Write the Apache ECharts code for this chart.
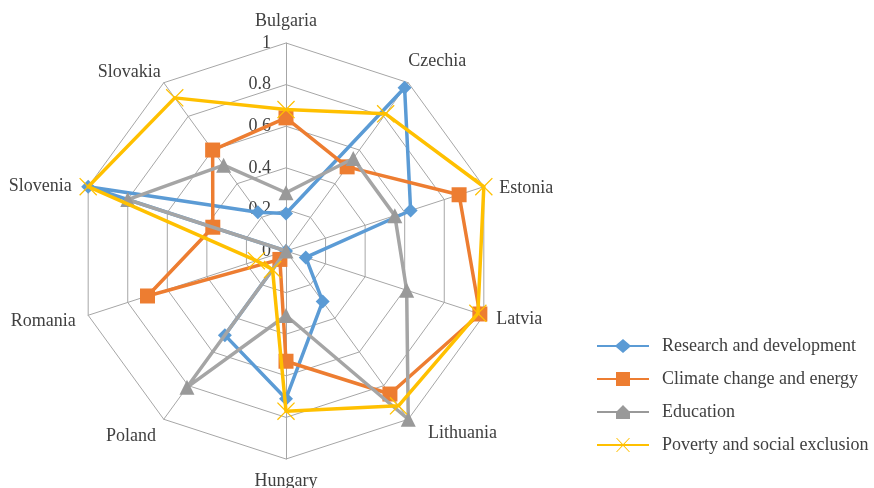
<!DOCTYPE html>
<html>
<head>
<meta charset="utf-8">
<script src="https://cdn.jsdelivr.net/npm/echarts@6/dist/echarts.min.js"></script>
<style>
  html, body { margin: 0; padding: 0; background: #fff; }
  #chart { width: 874px; height: 488px; }
</style>
</head>
<body>
<div id="chart"></div>
<script>
// countries, clockwise from top
const countries = ['Bulgaria', 'Czechia', 'Estonia', 'Latvia', 'Lithuania', 'Hungary', 'Poland', 'Romania', 'Slovenia', 'Slovakia']
const seriesNames = ['Research and development', 'Climate change and energy', 'Education', 'Poverty and social exclusion']

const research = [0.18, 0.97, 0.63, 0.10, 0.30, 0.71, 0.50, 0, 1.0, 0.23]
const climate = [0.64, 0.50, 0.875, 0.98, 0.85, 0.53, 0.05, 0.70, 0.37, 0.60]
const education = [0.28, 0.55, 0.55, 0.61, 1.0, 0.31, 0.81, 0, 0.80, 0.51]
const poverty = [0.68, 0.815, 1.0, 0.97, 0.92, 0.77, 0.11, 0.15, 1.0, 0.91]

const colors = ['#5b9bd5', '#ed7d31', '#a5a5a5', '#ffc000']
const font = 'Liberation Serif'

// echarts radar goes counter-clockwise, so keep first item and reverse the rest
const cw = arr => [arr[0]].concat(arr.slice(1).reverse())

// small nudges for the country names: up/down via an empty line, sideways via padding
const nameTweaks = {
  Czechia: { nameGap: 0, up: 42 },
  Estonia: { down: 12, padding: [0, 0, 0, 3] },
  Lithuania: { padding: [0, 0, 0, 12], down: 6 },
  Poland: { down: 12 },
  Romania: { down: 4 },
  Slovenia: { down: 8, padding: [0, 4, 0, 0] },
  Slovakia: { nameGap: 5, up: 12 }
}

// X marker (Excel style)
const xMark = 'path://M0,1 L1,0 L10,9 L19,0 L20,1 L11,10 L20,19 L19,20 L10,11 L1,20 L0,19 L9,10 Z'
// legend icons: line + marker
const legendIcons = [
  'path://M0,6 L19,6 L26,0 L33,6 L52,6 L52,8 L33,8 L26,14 L19,8 L0,8 Z',
  'path://M0,6 L19,6 L19,0 L33,0 L33,6 L52,6 L52,8 L33,8 L33,14 L19,14 L19,8 L0,8 Z',
  'path://M0,6 L20,6 L26,0 L32,6 L52,6 L52,8 L33,8 L33,14 L19,14 L19,8 L0,8 Z',
  'path://M0,6 L52,6 L52,8 L0,8 Z M19,0 L20,0 L26,6.3 L32,0 L33,0 L26.7,7 L33,14 L32,14 L26,7.7 L20,14 L19,14 L25.3,7 Z'
]

var myChart = echarts.init(document.getElementById('chart'))

let option = {
  animation: false,
  color: colors,
  legend: {
    orient: 'vertical',
    left: 592,
    top: 332,
    itemWidth: 52,
    itemHeight: 14,
    itemGap: 15,
    textStyle: { color: '#404040', fontFamily: font, fontSize: 18, padding: [0, 0, 0, 8] },
    data: seriesNames.map((n, i) => ({ name: n, icon: legendIcons[i] }))
  },
  radar: {
    center: [286, 251],
    radius: 208,
    shape: 'polygon',
    splitNumber: 5,
    startAngle: 90,
    nameGap: 13,
    axisName: {
      color: '#404040',
      fontFamily: font,
      fontSize: 18,
      formatter: function (name) {
        const t = nameTweaks[name]
        if (t && t.up) return name + '\n'
        if (t && t.down) return '\n' + name
        return name
      }
    },
    axisLine: { lineStyle: { color: '#a6a6a6', width: 1 } },
    splitLine: { lineStyle: { color: '#a6a6a6', width: 1 } },
    splitArea: { show: false },
    axisTick: { show: false },
    axisLabel: { show: false },
    indicator: cw(countries).map((c, i) => {
      const ind = { name: c, min: 0, max: 1 }
      const t = nameTweaks[c]
      if (t) {
        if (t.nameGap != null) ind.nameGap = t.nameGap
        ind.nameTextStyle = {}
        if (t.padding) ind.nameTextStyle.padding = t.padding
        if (t.up || t.down) ind.nameTextStyle.lineHeight = t.up || t.down
      }
      if (i === 0) {
        ind.axisLabel = {
          show: true,
          color: '#404040',
          fontFamily: font,
          fontSize: 18,
          margin: 15,
          formatter: v => String(Math.round(v * 10) / 10)
        }
      }
      return ind
    })
  },
  series: [
    {
      type: 'radar',
      z: 2,
      symbol: 'diamond',
      symbolSize: 14,
      lineStyle: { width: 3.5, color: colors[0] },
      itemStyle: { color: colors[0] },
      data: [{ name: seriesNames[0], value: cw(research) }]
    },
    {
      type: 'radar',
      z: 3,
      symbol: 'rect',
      symbolSize: 15,
      lineStyle: { width: 3.5, color: colors[1] },
      itemStyle: { color: colors[1] },
      data: [{ name: seriesNames[1], value: cw(climate) }]
    },
    {
      type: 'radar',
      z: 4,
      symbol: 'triangle',
      symbolSize: 15,
      lineStyle: { width: 3.5, color: colors[2] },
      itemStyle: { color: '#999999' },
      data: [{ name: seriesNames[2], value: cw(education) }]
    },
    {
      type: 'radar',
      z: 5,
      symbol: xMark,
      symbolSize: 18,
      lineStyle: { width: 3.5, color: colors[3] },
      itemStyle: { color: colors[3] },
      data: [{ name: seriesNames[3], value: cw(poverty) }]
    }
  ]
}

myChart.setOption(option)
</script>
</body>
</html>
